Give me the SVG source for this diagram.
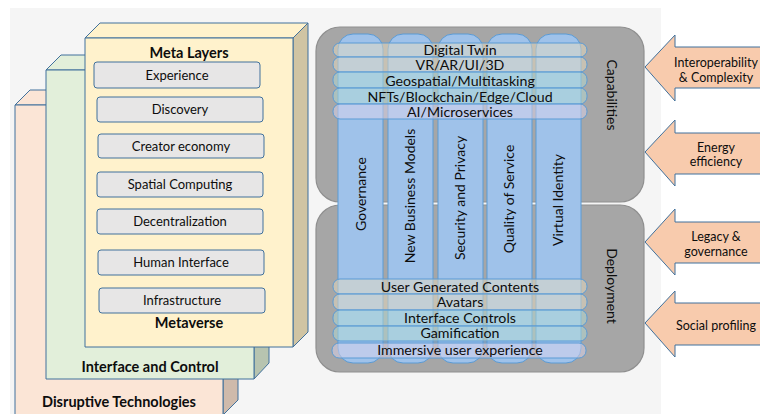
<svg xmlns="http://www.w3.org/2000/svg" width="760" height="414" viewBox="0 0 760 414">
<style>
text{font-family:Lato,"Liberation Sans",sans-serif;fill:#0d0d0d}
.t{font-weight:bold;font-size:14.5px;text-anchor:middle}
.ib{fill:#e7e6e6;stroke:#41719c;stroke-width:1}
.it{font-size:13px;text-anchor:middle}
.edge{stroke:#41719c;stroke-width:1;stroke-linejoin:round}
.grp{fill:#a6a6a6;stroke:#8f8f8f;stroke-width:1.2}
.col{fill:#9fc2ea;stroke:#5b9bd5;stroke-width:1}
.bA{fill:#e8dcc0;fill-opacity:0.5;stroke:#5b9bd5;stroke-width:1}
.bB{fill:#b4dcd4;fill-opacity:0.5;stroke:#5b9bd5;stroke-width:1}
.bC{fill:#dcd4ec;fill-opacity:0.5;stroke:#5b9bd5;stroke-width:1}
.bt{font-size:14.2px;text-anchor:middle}
.vt{font-size:14px;text-anchor:middle}
.arr{fill:#f8cbad;stroke:#41719c;stroke-width:1;stroke-linejoin:miter}
.at{font-size:12.5px;text-anchor:middle}
</style>
<rect x="0" y="0" width="760" height="414" fill="#ffffff"/>
<rect x="10" y="8" width="651" height="410" fill="#f5f5f5"/>

<g id="disruptive">
  <polygon class="edge" points="15,105 30,90 238,90 223,105" fill="#fbe5d6"/>
  <polygon class="edge" points="223,105 238,90 238,400 223,415" fill="#cfbaab"/>
  <rect class="edge" x="15" y="105" width="208" height="312" fill="#fbe5d6"/>
  <text class="t" x="119" y="407">Disruptive Technologies</text>
</g>

<g id="interface">
  <polygon class="edge" points="46,70 61,55 269,55 254,70" fill="#e2efda"/>
  <polygon class="edge" points="254,70 269,55 269,363 254,379" fill="#b7c4b0"/>
  <rect class="edge" x="46" y="70" width="208" height="309" fill="#e2efda"/>
  <text class="t" x="150" y="372">Interface and Control</text>
</g>

<g id="metaverse">
  <polygon class="edge" points="85,38 100,23 308,23 293,38" fill="#fff2cc"/>
  <polygon class="edge" points="293,38 308,23 308,332 293,347" fill="#d0c4a3"/>
  <rect class="edge" x="85" y="38" width="208" height="309" fill="#fff2cc"/>
  <text class="t" x="189" y="58">Meta Layers</text>
  <text class="t" x="189" y="328">Metaverse</text>
</g>

<g id="experience"><rect class="ib" x="94" y="62" width="166" height="26" rx="3"/><text class="it" x="177" y="79.5">Experience</text></g>
<g id="discovery"><rect class="ib" x="97" y="97" width="166" height="25" rx="3"/><text class="it" x="180" y="114">Discovery</text></g>
<g id="creator"><rect class="ib" x="98" y="134" width="166" height="24" rx="3"/><text class="it" x="181" y="150.5">Creator economy</text></g>
<g id="spatial"><rect class="ib" x="97" y="172" width="166" height="25" rx="3"/><text class="it" x="180" y="189">Spatial Computing</text></g>
<g id="decentral"><rect class="ib" x="97" y="209" width="166" height="25" rx="3"/><text class="it" x="180" y="226">Decentralization</text></g>
<g id="human"><rect class="ib" x="98" y="250" width="166" height="25" rx="3"/><text class="it" x="181" y="267">Human Interface</text></g>
<g id="infra"><rect class="ib" x="99" y="288" width="166" height="25" rx="3"/><text class="it" x="182" y="305">Infrastructure</text></g>

<g id="capabilities">
  <rect class="grp" x="316" y="27" width="328" height="175" rx="24"/>
  <text class="vt" transform="translate(607,95) rotate(90)">Capabilities</text>
</g>
<g id="deployment">
  <rect class="grp" x="316" y="205" width="328" height="167" rx="24"/>
  <text class="vt" transform="translate(607,286) rotate(90)">Deployment</text>
</g>

<g id="columns">
  <rect class="col" x="338" y="34" width="45" height="329" rx="15"/>
  <rect class="col" x="388" y="34" width="45" height="329" rx="15"/>
  <rect class="col" x="438" y="34" width="45" height="329" rx="15"/>
  <rect class="col" x="487" y="34" width="45" height="329" rx="15"/>
  <rect class="col" x="536" y="34" width="45" height="329" rx="15"/>
</g>

<g id="bands">
  <rect class="bA" x="333" y="43" width="254" height="14" rx="7"/>
  <rect class="bA" x="333" y="57" width="254" height="15" rx="7"/>
  <rect class="bB" x="333" y="72" width="254" height="16" rx="7"/>
  <rect class="bB" x="333" y="88" width="254" height="16" rx="7"/>
  <rect class="bC" x="333" y="104" width="254" height="15" rx="7"/>
  <rect class="bA" x="333" y="279" width="254" height="15" rx="7"/>
  <rect class="bA" x="333" y="294" width="254" height="16" rx="7"/>
  <rect class="bB" x="333" y="310" width="254" height="16" rx="7"/>
  <rect class="bB" x="333" y="326" width="254" height="15" rx="7"/>
  <rect class="bC" x="332" y="343" width="254" height="15" rx="7"/>
</g>

<g id="band-labels">
  <text class="bt" x="460" y="55">Digital Twin</text>
  <text class="bt" x="460" y="70">VR/AR/UI/3D</text>
  <text class="bt" x="460" y="86">Geospatial/Multitasking</text>
  <text class="bt" x="460" y="102">NFTs/Blockchain/Edge/Cloud</text>
  <text class="bt" x="460" y="117">AI/Microservices</text>
  <text class="bt" x="460" y="292">User Generated Contents</text>
  <text class="bt" x="460" y="307">Avatars</text>
  <text class="bt" x="460" y="323">Interface Controls</text>
  <text class="bt" x="460" y="338">Gamification</text>
  <text class="bt" x="460" y="355">Immersive user experience</text>
</g>

<g id="column-labels">
  <text class="vt" transform="translate(366,194) rotate(-90)">Governance</text>
  <text class="vt" transform="translate(415,196) rotate(-90)">New Business Models</text>
  <text class="vt" transform="translate(465,198) rotate(-90)">Security and Privacy</text>
  <text class="vt" transform="translate(514,199) rotate(-90)">Quality of Service</text>
  <text class="vt" transform="translate(563,200) rotate(-90)">Virtual Identity</text>
</g>

<g id="arrow-interop">
  <polygon class="arr" points="645,67 675,35 675,47 762,47 762,88 675,88 675,101"/>
  <text class="at" x="716" y="67">Interoperability</text>
  <text class="at" x="716" y="82">&amp; Complexity</text>
</g>
<g id="arrow-energy">
  <polygon class="arr" points="645,152 675,120 675,133 762,133 762,174 675,174 675,186"/>
  <text class="at" x="716" y="152">Energy</text>
  <text class="at" x="716" y="166">efficiency</text>
</g>
<g id="arrow-legacy">
  <polygon class="arr" points="645,242 675,209 675,222 762,222 762,263 675,263 675,275"/>
  <text class="at" x="716" y="241">Legacy &amp;</text>
  <text class="at" x="716" y="256">governance</text>
</g>
<g id="arrow-social">
  <polygon class="arr" points="645,323 675,291 675,303 762,303 762,345 675,345 675,357"/>
  <text class="at" x="716" y="330">Social profiling</text>
</g>
</svg>
